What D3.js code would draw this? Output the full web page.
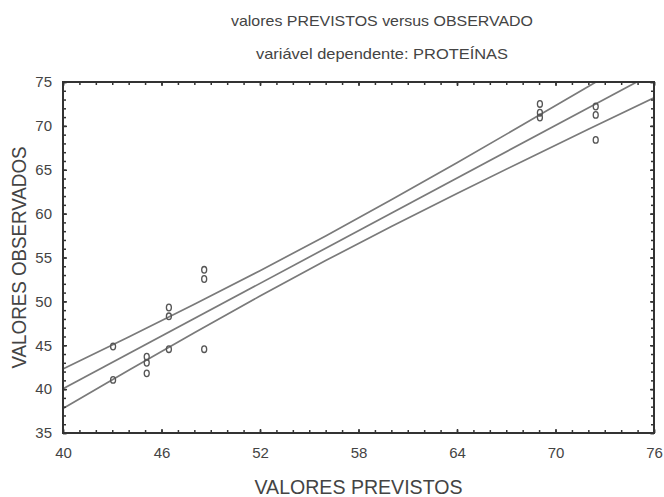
<!DOCTYPE html>
<html>
<head>
<meta charset="utf-8">
<script src="https://cdn.jsdelivr.net/npm/d3@7"></script>
<style>
  body { margin: 0; background: #fff; }
  text { font-family: "Liberation Sans", Arial, sans-serif; fill: #444; }
</style>
</head>
<body>
<div id="chart"></div>
<script>
// valores previstos (x) e observados (y)
const previstos = [43.05, 43.05, 45.1, 45.1, 45.1, 46.45, 46.45, 46.45, 48.6, 48.6, 48.6, 69.05, 69.05, 69.05, 72.45, 72.45, 72.45];
const observados = [44.85, 41.05, 43.7, 43.0, 41.8, 49.3, 48.3, 44.55, 53.6, 52.55, 44.55, 72.5, 71.5, 70.95, 72.2, 71.25, 68.4];

// reta ajustada e limites de confiança
const retaX = [40, 76];
const retaY = [40.05, 76.05];
const bandaX = [40, 44, 48, 52, 56, 60, 64, 68, 72, 76];
const bandaSup = [42.3, 45.95, 49.67, 53.49, 57.46, 61.57, 65.8, 70.12, 74.49, 78.89];
const bandaInf = [37.8, 42.15, 46.43, 50.61, 54.65, 58.53, 62.3, 65.98, 69.61, 73.21];

const xTicks = [40, 46, 52, 58, 64, 70, 76];
const yTicks = [35, 40, 45, 50, 55, 60, 65, 70, 75];

const W = 664, H = 497;
const margin = { top: 82, right: 10, bottom: 64, left: 63 };
const width = W - margin.left - margin.right;
const height = H - margin.top - margin.bottom;

const svg = d3.select('#chart').append('svg')
    .attr('width', W)
    .attr('height', H);

const g = svg.append('g')
    .attr('transform', `translate(${margin.left},${margin.top})`);

const x = d3.scaleLinear().domain([40, 76]).range([0, width]);
const y = d3.scaleLinear().domain([35, 75]).range([height, 0]);

svg.append('defs').append('clipPath').attr('id', 'clip')
    .append('rect').attr('width', width).attr('height', height);

const plot = g.append('g').attr('clip-path', 'url(#clip)');

// linhas
const line = d3.line().x(d => x(d[0])).y(d => y(d[1]));
const lineCurve = d3.line().x(d => x(d[0])).y(d => y(d[1])).curve(d3.curveMonotoneX);

plot.append('path')
    .datum(retaX.map((v, i) => [v, retaY[i]]))
    .attr('d', line)
    .attr('fill', 'none').attr('stroke', '#7a7a7a').attr('stroke-width', 1.7);

[bandaSup, bandaInf].forEach(b => {
    plot.append('path')
        .datum(bandaX.map((v, i) => [v, b[i]]))
        .attr('d', lineCurve)
        .attr('fill', 'none').attr('stroke', '#7a7a7a').attr('stroke-width', 1.7);
});

// pontos
plot.selectAll('ellipse.pt')
    .data(previstos.map((v, i) => [v, observados[i]]))
    .enter().append('ellipse')
    .attr('class', 'pt')
    .attr('cx', d => x(d[0]))
    .attr('cy', d => y(d[1]))
    .attr('rx', 2.5)
    .attr('ry', 3.3)
    .attr('fill', 'none')
    .attr('stroke', '#555')
    .attr('stroke-width', 1.3);

// eixos: ticks maiores e menores para dentro, nos quatro lados
const xMinor = d3.range(40, 77, 1);
const yMinor = d3.range(35, 76, 1);

function styleAxis(sel) {
    sel.select('.domain').remove();
    sel.selectAll('.tick line').attr('stroke', '#333').attr('stroke-width', 1.5);
    sel.selectAll('text').attr('font-size', '15px').style('fill', '#444');
}

g.append('g').attr('transform', `translate(0,${height})`)
    .call(d3.axisBottom(x).tickValues(xMinor).tickSize(-3).tickFormat(''))
    .call(styleAxis);
g.append('g').attr('transform', `translate(0,${height})`)
    .call(d3.axisBottom(x).tickValues(xTicks).tickSize(-4).tickPadding(14).tickFormat(d3.format('d')))
    .call(styleAxis);
g.append('g')
    .call(d3.axisTop(x).tickValues(xMinor).tickSize(-3).tickFormat(''))
    .call(styleAxis);
g.append('g')
    .call(d3.axisTop(x).tickValues(xTicks).tickSize(-4).tickFormat(''))
    .call(styleAxis);

g.append('g')
    .call(d3.axisLeft(y).tickValues(yMinor).tickSize(-3).tickFormat(''))
    .call(styleAxis);
g.append('g')
    .call(d3.axisLeft(y).tickValues(yTicks).tickSize(-4).tickPadding(11).tickFormat(d3.format('d')))
    .call(styleAxis);
g.append('g').attr('transform', `translate(${width},0)`)
    .call(d3.axisRight(y).tickValues(yMinor).tickSize(-3).tickFormat(''))
    .call(styleAxis);
g.append('g').attr('transform', `translate(${width},0)`)
    .call(d3.axisRight(y).tickValues(yTicks).tickSize(-4).tickFormat(''))
    .call(styleAxis);

// moldura
g.append('rect')
    .attr('width', width).attr('height', height)
    .attr('fill', 'none').attr('stroke', '#333').attr('stroke-width', 2);

// títulos
svg.append('text')
    .attr('x', 382).attr('y', 26)
    .attr('text-anchor', 'middle')
    .attr('font-size', '15px')
    .attr('textLength', 302).attr('lengthAdjust', 'spacingAndGlyphs')
    .text('valores PREVISTOS versus OBSERVADO');

svg.append('text')
    .attr('x', 382).attr('y', 59)
    .attr('text-anchor', 'middle')
    .attr('font-size', '15px')
    .attr('textLength', 252).attr('lengthAdjust', 'spacingAndGlyphs')
    .text('variável dependente: PROTEÍNAS');

svg.append('text')
    .attr('x', margin.left + width / 2).attr('y', 494)
    .attr('text-anchor', 'middle')
    .attr('font-size', '20px')
    .attr('textLength', 208).attr('lengthAdjust', 'spacingAndGlyphs')
    .text('VALORES PREVISTOS');

svg.append('text')
    .attr('transform', `translate(26,${margin.top + height / 2}) rotate(-90)`)
    .attr('text-anchor', 'middle')
    .attr('font-size', '21px')
    .attr('textLength', 222).attr('lengthAdjust', 'spacingAndGlyphs')
    .text('VALORES OBSERVADOS');
</script>
</body>
</html>
